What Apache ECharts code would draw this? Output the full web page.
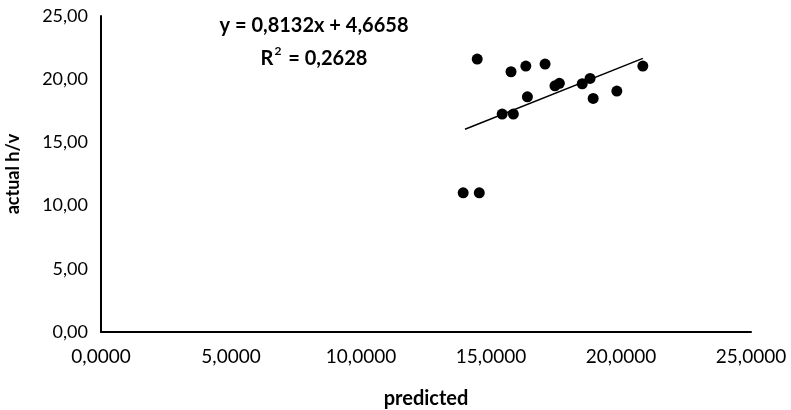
<!DOCTYPE html>
<html><head><meta charset="utf-8">
<script src="https://cdn.jsdelivr.net/npm/echarts@6/dist/echarts.min.js"></script>
<style>html,body{margin:0;padding:0;background:#fff}#c{width:791px;height:410px}</style>
</head><body><div id="c"></div>
<script>
var predicted = [14.47,15.77,16.34,17.08,16.40,15.43,15.86,17.46,17.63,18.51,18.81,18.93,19.84,20.84,13.93,14.55];
var actual    = [21.59,20.59,21.04,21.20,18.61,17.24,17.24,19.48,19.67,19.64,20.06,18.48,19.06,21.04,11.01,11.01];
var trendX = [14.0, 20.84];
var trendY = [16.04, 21.65];
var equationText = 'y = 0,8132x + 4,6658';
var r2Text = 'R{sup|2} = 0,2628';
var xTicks = [0,5,10,15,20,25];
var yTicks = [0,5,10,15,20,25];

var pts = predicted.map(function(v,i){return [v, actual[i]];});
var trend = trendX.map(function(v,i){return [v, trendY[i]];});
var font = 'Lato, "Open Sans", sans-serif';
var chart = echarts.init(document.getElementById('c'));
chart.setOption({
  animation:false,
  grid:{left:101,right:40,top:16,bottom:78,containLabel:false,outerBoundsMode:'none'},
  xAxis:{type:'value',min:xTicks[0],max:xTicks[xTicks.length-1],interval:5,
    name:'predicted',nameLocation:'middle',nameGap:57,
    nameTextStyle:{fontFamily:font,fontWeight:'bold',fontSize:20,color:'#000'},
    axisLine:{lineStyle:{color:'#000',width:2}},axisTick:{show:false},splitLine:{show:false},
    axisLabel:{margin:15,fontFamily:font,fontSize:19,color:'#000',
      formatter:function(v){return v.toFixed(4).replace('.',',');}}},
  yAxis:{type:'value',min:yTicks[0],max:yTicks[yTicks.length-1],interval:5,
    name:'actual h/v',nameLocation:'middle',nameGap:79,
    nameTextStyle:{fontFamily:font,fontWeight:'bold',fontSize:18,color:'#000'},
    axisLine:{show:true,lineStyle:{color:'#000',width:2}},axisTick:{show:false},splitLine:{show:false},
    axisLabel:{margin:13,fontFamily:font,fontSize:18,color:'#000',
      formatter:function(v){return v.toFixed(2).replace('.',',');}}},
  series:[
    {type:'line',data:trend,symbol:'none',lineStyle:{color:'#000',width:1.5},z:1},
    {type:'scatter',data:pts,symbolSize:11,itemStyle:{color:'#000',opacity:1},z:2}
  ],
  graphic:[
    {type:'text',style:{text:equationText,x:314,y:26,align:'center',verticalAlign:'middle',
      fontFamily:font,fontSize:20,fontWeight:'bold',fill:'#000'}},
    {type:'text',style:{text:r2Text,x:314,y:59,align:'center',verticalAlign:'middle',
      fontFamily:font,fontSize:20,fontWeight:'bold',fill:'#000',
      rich:{sup:{fontSize:12,fontWeight:'bold',fontFamily:font,verticalAlign:'top',padding:[0,2,16,1]}}}}
  ]
});
</script></body></html>
